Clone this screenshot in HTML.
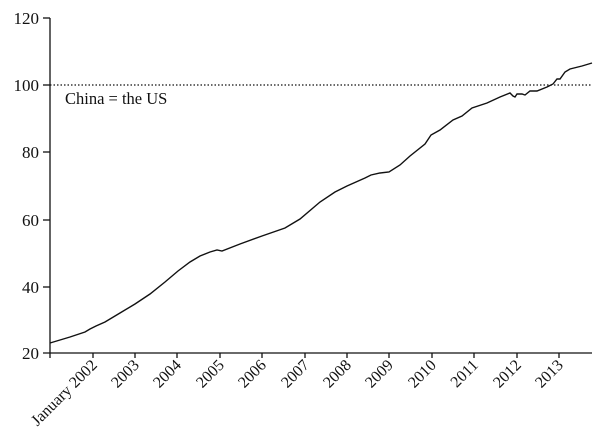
<!DOCTYPE html>
<html><head><style>body{margin:0;background:#fff}svg{display:block}</style></head><body>
<svg width="600" height="443" viewBox="0 0 600 443" xmlns="http://www.w3.org/2000/svg" font-family="Liberation Serif, serif" fill="#111">
<g stroke="#111" stroke-width="1.3" fill="none">
<line x1="50" y1="18" x2="50" y2="358"/>
<line x1="43" y1="353" x2="592" y2="353"/>
<line x1="43" y1="18" x2="50" y2="18"/><line x1="43" y1="85" x2="50" y2="85"/><line x1="43" y1="152" x2="50" y2="152"/><line x1="43" y1="220" x2="50" y2="220"/><line x1="43" y1="287" x2="50" y2="287"/>
<line x1="93" y1="353" x2="93" y2="358"/><line x1="135" y1="353" x2="135" y2="358"/><line x1="177" y1="353" x2="177" y2="358"/><line x1="220" y1="353" x2="220" y2="358"/><line x1="262" y1="353" x2="262" y2="358"/><line x1="305" y1="353" x2="305" y2="358"/><line x1="347" y1="353" x2="347" y2="358"/><line x1="389" y1="353" x2="389" y2="358"/><line x1="432" y1="353" x2="432" y2="358"/><line x1="474" y1="353" x2="474" y2="358"/><line x1="517" y1="353" x2="517" y2="358"/><line x1="559" y1="353" x2="559" y2="358"/>
<line x1="50" y1="85" x2="592" y2="85" stroke-dasharray="1.5,2" stroke-width="1.2"/>
<polyline stroke-width="1.4" points="50,343 70,337 85,332 90,329 96,326 105,322 120,313 135,304 150,294 165,282 178,271 190,262 200,256 210,252 217,250 222,251 240,244 262,236 285,228 300,219 320,202 335,192 347,186 365,178 371,175 380,173 389,172 400,165 410,156 425,144 431,135 440,130 453,120 462,116 472,108 487,103 500,97 510,93 513,96 515,97 517,94 522,94 525,95 530,91 537,91 547,87 553,84 557,79 560,79 565,72 570,69 582,66 592,63"/>
</g>
<g font-size="17" text-anchor="end">
<text x="39" y="24">120</text><text x="39" y="91">100</text><text x="39" y="158">80</text><text x="39" y="226">60</text><text x="39" y="293">40</text><text x="39" y="359">20</text>
</g>
<text x="65" y="104" font-size="16.5">China = the US</text>
<g font-size="16" text-anchor="end">
<text transform="translate(98,366) rotate(-45)">January 2002</text>
<text transform="translate(140,366) rotate(-45)">2003</text>
<text transform="translate(182,366) rotate(-45)">2004</text>
<text transform="translate(225,366) rotate(-45)">2005</text>
<text transform="translate(267,366) rotate(-45)">2006</text>
<text transform="translate(310,366) rotate(-45)">2007</text>
<text transform="translate(352,366) rotate(-45)">2008</text>
<text transform="translate(394,366) rotate(-45)">2009</text>
<text transform="translate(437,366) rotate(-45)">2010</text>
<text transform="translate(479,366) rotate(-45)">2011</text>
<text transform="translate(522,366) rotate(-45)">2012</text>
<text transform="translate(564,366) rotate(-45)">2013</text>
</g>
</svg>
</body></html>
